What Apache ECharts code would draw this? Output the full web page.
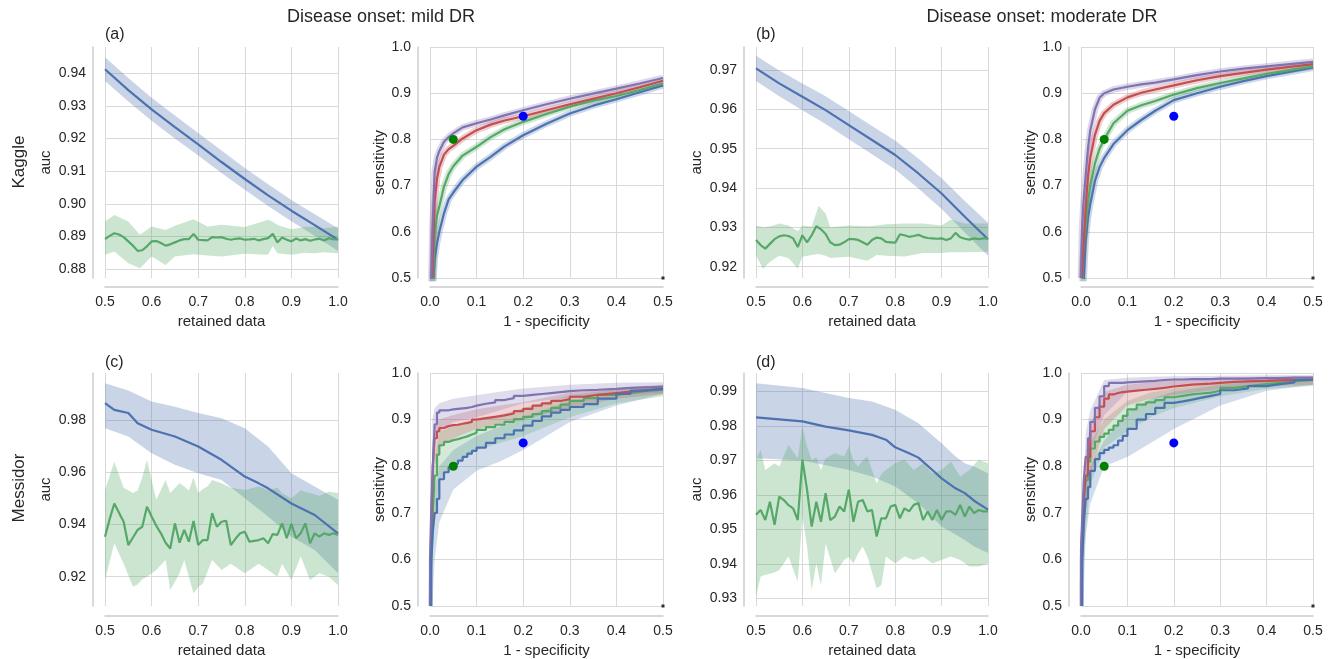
<!DOCTYPE html>
<html>
<head>
<meta charset="utf-8">
<script src="https://cdn.jsdelivr.net/npm/echarts/dist/echarts.min.js"></script>
<style>html,body{margin:0;padding:0;background:#fff}#c{width:1333px;height:659px}</style>
</head>
<body>
<div id="c"></div>
<script>
// ---------- DATA ----------
const auxX = [0.50,0.51,0.52,0.53,0.54,0.55,0.56,0.57,0.58,0.59,0.60,0.61,0.62,0.63,0.64,0.65,0.66,0.67,0.68,0.69,0.70,0.71,0.72,0.73,0.74,0.75,0.76,0.77,0.78,0.79,0.80,0.81,0.82,0.83,0.84,0.85,0.86,0.87,0.88,0.89,0.90,0.91,0.92,0.93,0.94,0.95,0.96,0.97,0.98,0.99,1.00];

// (a) Kaggle, mild DR
const aBlueX = [0.5,0.55,0.6,0.65,0.7,0.75,0.8,0.85,0.9,0.95,1.0];
const aBlue   = [0.9412,0.9348,0.9289,0.9235,0.9182,0.9128,0.9076,0.9026,0.8979,0.8935,0.8890];
const aBlueLo = [0.9376,0.9313,0.9254,0.9200,0.9148,0.9094,0.9043,0.8993,0.8947,0.8902,0.8856];
const aBlueHi = [0.9449,0.9385,0.9325,0.9270,0.9217,0.9163,0.9110,0.9060,0.9012,0.8968,0.8925];
const aGreen = [0.8892,0.8902,0.8910,0.8906,0.8898,0.8885,0.8872,0.8856,0.8858,0.8870,0.8885,0.8886,0.8880,0.8872,0.8876,0.8882,0.8888,0.8892,0.8892,0.8908,0.8890,0.8889,0.8888,0.8898,0.8897,0.8898,0.8893,0.8890,0.8893,0.8894,0.8890,0.8891,0.8893,0.8888,0.8892,0.8895,0.8908,0.8882,0.8897,0.8890,0.8885,0.8894,0.8888,0.8892,0.8887,0.8891,0.8893,0.8888,0.8895,0.8891,0.8892];
const aGreenBandX = [0.5,0.52,0.55,0.575,0.6,0.63,0.65,0.69,0.72,0.75,0.8,0.85,0.86,0.87,0.9,0.93,0.95,0.97,1.0];
const aGreenHi = [0.8946,0.8966,0.8946,0.8905,0.8931,0.8920,0.8933,0.8953,0.8931,0.8936,0.8929,0.8951,0.8945,0.8935,0.8922,0.8930,0.8929,0.8925,0.8931];
const aGreenLo = [0.8844,0.8854,0.8818,0.8803,0.8839,0.8813,0.8839,0.8846,0.8842,0.8839,0.8847,0.8844,0.8871,0.8849,0.8844,0.8850,0.8849,0.8852,0.8849];

// (b) Kaggle, moderate DR
const bBlueX = [0.5,0.55,0.6,0.65,0.7,0.75,0.8,0.85,0.9,0.95,1.0];
const bBlue   = [0.9704,0.9666,0.9632,0.9598,0.9560,0.9522,0.9484,0.9437,0.9386,0.9327,0.9270];
const bBlueLo = [0.9672,0.9633,0.9598,0.9563,0.9524,0.9486,0.9447,0.9399,0.9347,0.9287,0.9228];
const bBlueHi = [0.9736,0.9699,0.9666,0.9633,0.9596,0.9558,0.9521,0.9475,0.9425,0.9367,0.9312];
const bGreen = [0.9268,0.9255,0.9246,0.9258,0.9270,0.9277,0.9280,0.9278,0.9272,0.9250,0.9280,0.9262,0.9280,0.9303,0.9295,0.9283,0.9262,0.9255,0.9256,0.9262,0.9270,0.9270,0.9268,0.9262,0.9256,0.9268,0.9274,0.9272,0.9263,0.9262,0.9261,0.9282,0.9280,0.9276,0.9278,0.9281,0.9276,0.9273,0.9272,0.9271,0.9272,0.9268,0.9272,0.9286,0.9275,0.9271,0.9269,0.9272,0.9270,0.9272,0.9272];
const bGreenBandX = [0.5,0.515,0.53,0.55,0.57,0.59,0.6,0.62,0.635,0.65,0.66,0.7,0.74,0.76,0.78,0.82,0.86,0.9,0.92,0.95,1.0];
const bGreenHi = [0.9305,0.9300,0.9302,0.9310,0.9305,0.9290,0.9305,0.9302,0.9355,0.9335,0.9300,0.9305,0.9303,0.9305,0.9308,0.9310,0.9310,0.9305,0.9320,0.9310,0.9310];
const bGreenLo = [0.9230,0.9195,0.9212,0.9228,0.9222,0.9195,0.9225,0.9230,0.9232,0.9228,0.9222,0.9225,0.9215,0.9230,0.9228,0.9226,0.9235,0.9235,0.9237,0.9237,0.9238];

// (c) Messidor, mild DR
const cBlueX = [0.5,0.52,0.55,0.57,0.6,0.65,0.7,0.75,0.8,0.83,0.85,0.9,0.95,1.0];
const cBlue  = [0.9864,0.9838,0.9826,0.9787,0.9762,0.9736,0.9698,0.9647,0.9583,0.9557,0.9538,0.9480,0.9436,0.9366];
const cBlueBandX = [0.5,0.55,0.6,0.65,0.7,0.75,0.8,0.85,0.9,0.95,1.0];
const cBlueHi = [0.9940,0.9912,0.9870,0.9850,0.9826,0.9806,0.9768,0.9698,0.9596,0.9545,0.9494];
const cBlueLo = [0.9768,0.9736,0.9672,0.9628,0.9596,0.9570,0.9500,0.9430,0.9353,0.9302,0.9213];
const cGreen = [0.9353,0.9420,0.9480,0.9445,0.9410,0.9321,0.9350,0.9379,0.9391,0.9468,0.9430,0.9395,0.9366,0.9330,0.9308,0.9404,0.9330,0.9379,0.9334,0.9413,0.9321,0.9340,0.9340,0.9443,0.9391,0.9410,0.9414,0.9321,0.9345,0.9366,0.9372,0.9334,0.9337,0.9340,0.9347,0.9328,0.9363,0.9360,0.9404,0.9347,0.9402,0.9347,0.9366,0.9404,0.9328,0.9366,0.9353,0.9366,0.9360,0.9366,0.9360];
const cGreenBandX = [0.5,0.52,0.54,0.56,0.57,0.58,0.59,0.61,0.63,0.64,0.66,0.67,0.68,0.69,0.7,0.71,0.72,0.73,0.75,0.77,0.8,0.83,0.85,0.87,0.88,0.9,0.92,0.94,0.96,0.98,1.0];
const cGreenHi = [0.9532,0.9640,0.9540,0.9520,0.9530,0.9580,0.9647,0.9494,0.9570,0.9520,0.9557,0.9545,0.9530,0.9580,0.9520,0.9535,0.9545,0.9570,0.9557,0.9540,0.9532,0.9545,0.9532,0.9540,0.9520,0.9500,0.9530,0.9520,0.9510,0.9525,0.9520];
const cGreenLo = [0.9187,0.9328,0.9250,0.9162,0.9170,0.9190,0.9200,0.9226,0.9264,0.9149,0.9213,0.9264,0.9200,0.9136,0.9160,0.9174,0.9220,0.9264,0.9226,0.9250,0.9213,0.9250,0.9226,0.9200,0.9250,0.9187,0.9277,0.9187,0.9213,0.9200,0.9168];

// (d) Messidor, moderate DR
const dBlueX = [0.5,0.55,0.6,0.65,0.7,0.75,0.78,0.8,0.83,0.85,0.88,0.9,0.93,0.95,0.97,1.0];
const dBlue  = [0.9825,0.9819,0.9813,0.9798,0.9787,0.9774,0.9760,0.9738,0.9721,0.9708,0.9672,0.9648,0.9619,0.9605,0.9583,0.9557];
const dBlueBandX = [0.5,0.6,0.7,0.75,0.8,0.85,0.9,0.93,0.95,0.97,1.0];
const dBlueHi = [0.9924,0.9910,0.9881,0.9871,0.9847,0.9808,0.9750,0.9711,0.9692,0.9682,0.9663];
const dBlueLo = [0.9706,0.9700,0.9672,0.9653,0.9624,0.9576,0.9508,0.9485,0.9469,0.9450,0.9431];
const dGreen = [0.9542,0.9556,0.9527,0.9580,0.9513,0.9595,0.9585,0.9570,0.9561,0.9527,0.9702,0.9615,0.9508,0.9580,0.9522,0.9605,0.9527,0.9537,0.9566,0.9552,0.9615,0.9522,0.9580,0.9585,0.9552,0.9556,0.9479,0.9532,0.9532,0.9566,0.9571,0.9532,0.9561,0.9552,0.9571,0.9576,0.9527,0.9552,0.9527,0.9556,0.9527,0.9552,0.9552,0.9542,0.9571,0.9537,0.9566,0.9547,0.9556,0.9552,0.9552];
const dGreenBandX = [0.5,0.51,0.52,0.54,0.55,0.57,0.59,0.6,0.61,0.62,0.63,0.64,0.65,0.67,0.69,0.7,0.71,0.72,0.73,0.74,0.76,0.77,0.78,0.8,0.82,0.84,0.86,0.88,0.9,0.92,0.94,0.96,0.98,1.0];
const dGreenHi = [0.9702,0.9731,0.9672,0.9692,0.9682,0.9745,0.9706,0.9798,0.9740,0.9700,0.9710,0.9672,0.9706,0.9721,0.9711,0.9740,0.9700,0.9682,0.9700,0.9711,0.9634,0.9660,0.9672,0.9692,0.9702,0.9672,0.9692,0.9663,0.9672,0.9697,0.9653,0.9672,0.9702,0.9692];
const dGreenLo = [0.9305,0.9363,0.9368,0.9375,0.9382,0.9421,0.9348,0.9537,0.9450,0.9324,0.9401,0.9338,0.9459,0.9372,0.9411,0.9420,0.9401,0.9430,0.9450,0.9421,0.9329,0.9338,0.9421,0.9401,0.9421,0.9411,0.9421,0.9401,0.9411,0.9421,0.9411,0.9392,0.9392,0.9401];

// ROC curves, Kaggle
const rocKX = [0,0.002,0.005,0.01,0.015,0.02,0.03,0.04,0.05,0.07,0.1,0.13,0.16,0.2,0.25,0.3,0.35,0.4,0.45,0.5];
const kMildPurple = [null,0.45,0.60,0.73,0.76,0.775,0.795,0.805,0.813,0.826,0.835,0.843,0.852,0.863,0.876,0.888,0.899,0.91,0.921,0.933];
const kMildRed    = [null,null,0.50,0.665,0.715,0.74,0.767,0.779,0.786,0.802,0.82,0.832,0.841,0.85,0.863,0.876,0.888,0.90,0.913,0.927];
const kMildGreen  = [null,null,0.47,0.59,0.635,0.655,0.698,0.725,0.742,0.765,0.784,0.805,0.822,0.838,0.855,0.871,0.884,0.894,0.907,0.921];
const kMildBlue   = [null,null,0.46,0.54,0.575,0.60,0.64,0.67,0.685,0.712,0.741,0.762,0.785,0.809,0.834,0.856,0.873,0.887,0.902,0.917];
const kModPurple = [0.50,0.60,0.66,0.72,0.78,0.82,0.865,0.89,0.90,0.908,0.914,0.919,0.923,0.93,0.939,0.947,0.953,0.958,0.963,0.968];
const kModRed    = [null,0.50,0.56,0.65,0.72,0.76,0.81,0.84,0.857,0.875,0.891,0.901,0.908,0.917,0.928,0.937,0.944,0.951,0.957,0.963];
const kModGreen  = [null,0.46,0.56,0.61,0.665,0.70,0.748,0.78,0.80,0.835,0.862,0.874,0.883,0.897,0.911,0.922,0.932,0.942,0.95,0.958];
const kModBlue   = [null,null,0.48,0.58,0.63,0.66,0.71,0.74,0.76,0.79,0.82,0.842,0.862,0.885,0.90,0.914,0.926,0.937,0.946,0.955];

// ROC curves, Messidor
const rocMX = [0,0.003,0.006,0.01,0.015,0.02,0.03,0.04,0.05,0.06,0.07,0.08,0.09,0.1,0.12,0.14,0.16,0.18,0.2,0.22,0.24,0.26,0.28,0.3,0.33,0.36,0.4,0.43,0.46,0.5];
const mMildPurple = [0.50,0.60,0.72,0.80,0.89,0.915,0.92,0.92,0.922,0.923,0.924,0.925,0.927,0.93,0.934,0.937,0.942,0.946,0.951,0.953,0.955,0.957,0.959,0.961,0.963,0.964,0.966,0.968,0.969,0.97];
const mMildRed    = [0.50,0.55,0.68,0.80,0.86,0.875,0.882,0.886,0.888,0.889,0.891,0.893,0.895,0.90,0.903,0.906,0.909,0.913,0.918,0.923,0.93,0.935,0.94,0.944,0.949,0.953,0.957,0.96,0.963,0.966];
const mMildGreen  = [0.50,0.52,0.60,0.70,0.78,0.825,0.845,0.852,0.856,0.858,0.861,0.864,0.868,0.872,0.878,0.884,0.889,0.895,0.901,0.906,0.912,0.918,0.925,0.932,0.94,0.946,0.953,0.957,0.961,0.964];
const mMildBlue   = [null,0.50,0.60,0.66,0.70,0.73,0.772,0.787,0.798,0.805,0.812,0.82,0.827,0.833,0.84,0.85,0.86,0.868,0.877,0.887,0.897,0.907,0.915,0.921,0.927,0.933,0.945,0.955,0.962,0.966];
const mModPurple = [0.50,0.62,0.70,0.77,0.82,0.86,0.895,0.925,0.95,0.972,0.979,0.979,0.979,0.98,0.981,0.982,0.983,0.985,0.986,0.986,0.987,0.987,0.987,0.988,0.988,0.988,0.989,0.989,0.99,0.99];
const mModRed    = [0.50,0.60,0.68,0.73,0.78,0.82,0.875,0.905,0.928,0.945,0.954,0.957,0.959,0.96,0.962,0.964,0.966,0.968,0.971,0.973,0.975,0.976,0.977,0.979,0.981,0.982,0.983,0.984,0.985,0.986];
const mModGreen  = [0.50,0.55,0.65,0.72,0.77,0.81,0.838,0.853,0.863,0.87,0.878,0.887,0.897,0.908,0.922,0.932,0.937,0.942,0.948,0.951,0.954,0.956,0.958,0.962,0.968,0.972,0.976,0.979,0.982,0.985];
const mModBlue   = [null,0.50,0.60,0.68,0.73,0.755,0.79,0.815,0.828,0.835,0.84,0.845,0.855,0.865,0.88,0.90,0.912,0.925,0.936,0.939,0.943,0.947,0.951,0.955,0.963,0.967,0.972,0.976,0.98,0.985];

// ROC confidence bands, Messidor
const rocMBandX = [0.005,0.01,0.02,0.05,0.1,0.15,0.2,0.3,0.4,0.5];
const mMildPurpleLo = [0.75,0.86,0.875,0.895,0.905,0.92,0.935,0.948,0.953,0.958];
const mMildPurpleHi = [0.90,0.925,0.935,0.945,0.952,0.96,0.967,0.975,0.979,0.98];
const mMildRedLo = [0.70,0.80,0.84,0.86,0.88,0.89,0.9,0.925,0.945,0.955];
const mMildRedHi = [0.85,0.885,0.90,0.91,0.922,0.93,0.937,0.958,0.968,0.975];
const mMildGreenLo = [0.60,0.68,0.77,0.80,0.835,0.85,0.865,0.905,0.935,0.95];
const mMildGreenHi = [0.75,0.82,0.875,0.885,0.897,0.91,0.925,0.952,0.965,0.975];
const mMildBlueLo = [0.50,0.60,0.68,0.75,0.79,0.81,0.835,0.895,0.93,0.955];
const mMildBlueHi = [0.72,0.75,0.80,0.835,0.865,0.885,0.905,0.94,0.955,0.975];
const mModPurpleLo = [0.60,0.72,0.83,0.91,0.96,0.967,0.972,0.978,0.982,0.985];
const mModPurpleHi = [0.72,0.87,0.92,0.985,0.99,0.992,0.993,0.994,0.995,0.995];
const mModRedLo = [0.60,0.70,0.78,0.88,0.93,0.945,0.953,0.965,0.972,0.975];
const mModRedHi = [0.75,0.83,0.89,0.96,0.975,0.98,0.985,0.99,0.992,0.993];
const mModGreenLo = [0.55,0.66,0.76,0.84,0.875,0.905,0.925,0.95,0.966,0.972];
const mModGreenHi = [0.68,0.78,0.85,0.90,0.94,0.958,0.967,0.978,0.987,0.99];
const mModBlueLo = [0.50,0.65,0.72,0.80,0.82,0.85,0.88,0.93,0.962,0.975];
const mModBlueHi = [0.66,0.74,0.80,0.855,0.915,0.945,0.96,0.975,0.985,0.99];

// operating points
const greenPoint = [[0.05, 0.80]];
const bluePoint = [[0.2, 0.85]];
const cornerMark = [[0.5, 0.5]];

// ---------- STYLE ----------
const FONT = '"Liberation Sans", Arial, sans-serif';
const TXT = '#262626';
const BLUE = '#4C72B0', GREEN = '#55A868', RED = '#C44E52', PURPLE = '#8172B2';
const SPINE = '#cccccc', GRIDC = '#d9d9d9';

function rgba(hex, a) {
  const n = parseInt(hex.slice(1), 16);
  return 'rgba(' + (n >> 16) + ',' + ((n >> 8) & 255) + ',' + (n & 255) + ',' + a + ')';
}

const grids = [
  {left:105, top:47, width:233, height:231},
  {left:430, top:47, width:233, height:231},
  {left:756, top:47, width:232, height:231},
  {left:1081, top:47, width:232, height:231},
  {left:105, top:373, width:233, height:233},
  {left:430, top:373, width:233, height:233},
  {left:756, top:373, width:232, height:233},
  {left:1081, top:373, width:232, height:233}
];

function xAxis(gi, roc, off) {
  return {
    type:'value', gridIndex:gi, min: roc ? 0 : 0.5, max: roc ? 0.5 : 1.0, interval:0.1,
    offset: off,
    axisLine:{show:true, onZero:false, lineStyle:{color:SPINE, width:1.5}},
    axisTick:{show:false},
    axisLabel:{color:TXT, fontSize:14, fontFamily:FONT, margin:8, formatter: v => v.toFixed(1)},
    splitLine:{show:true, lineStyle:{color:GRIDC, width:1}},
    name: roc ? '1 - specificity' : 'retained data', nameLocation:'middle', nameGap:27,
    nameTextStyle:{color:TXT, fontSize:15, fontFamily:FONT}
  };
}
function yAxisAuc(gi, min, max, step) {
  return {
    type:'value', gridIndex:gi, min:min, max:max, minInterval:step, maxInterval:step,
    offset:12,
    axisLine:{show:true, onZero:false, lineStyle:{color:SPINE, width:1.5}},
    axisTick:{show:false},
    axisLabel:{color:TXT, fontSize:14, fontFamily:FONT, margin:7, showMinLabel:false, showMaxLabel:false, formatter: v => v.toFixed(2)},
    splitLine:{show:true, showMinLine:false, showMaxLine:false, lineStyle:{color:GRIDC, width:1}},
    name:'auc', nameLocation:'middle', nameGap:40,
    nameTextStyle:{color:TXT, fontSize:15, fontFamily:FONT}
  };
}
function yAxisRoc(gi) {
  return {
    type:'value', gridIndex:gi, min:0.5, max:1.0, interval:0.1,
    offset:12,
    axisLine:{show:true, onZero:false, lineStyle:{color:SPINE, width:1.5}},
    axisTick:{show:false},
    axisLabel:{color:TXT, fontSize:14, fontFamily:FONT, margin:7, formatter: v => v.toFixed(1)},
    splitLine:{show:true, lineStyle:{color:GRIDC, width:1}},
    name:'sensitivity', nameLocation:'middle', nameGap:31,
    nameTextStyle:{color:TXT, fontSize:15, fontFamily:FONT}
  };
}

function band(gi, xs, lo, hi, color, a) {
  const data = xs.map((x, i) => [x, lo[i], hi[i]]);
  return {
    type:'custom', xAxisIndex:gi, yAxisIndex:gi, data:data, silent:true, animation:false,
    encode:{x:0, y:[1,2]}, clip:true,
    renderItem: function (params, api) {
      if (params.dataIndex !== 0) return null;
      const top = data.map(d => api.coord([d[0], d[2]]));
      const bot = data.map(d => api.coord([d[0], d[1]])).reverse();
      return {type:'polygon', shape:{points: top.concat(bot)}, style:{fill: rgba(color, a)}};
    }
  };
}
function line(gi, xs, ys, color, extra) {
  const data = [];
  xs.forEach((x, i) => { if (ys[i] !== null) data.push([x, ys[i]]); });
  return Object.assign({
    type:'line', xAxisIndex:gi, yAxisIndex:gi, data:data, showSymbol:false, symbol:'none',
    silent:true, animation:false, clip:true,
    lineStyle:{color:color, width:2.2}, itemStyle:{color:color}, z:3
  }, extra || {});
}
function halo(gi, xs, ys, color) {
  return line(gi, xs, ys, color, {lineStyle:{color:color, width:6.5, opacity:0.28}, z:2});
}
function points(gi) {
  return [
    {type:'scatter', xAxisIndex:gi, yAxisIndex:gi, data:greenPoint, symbolSize:9, itemStyle:{color:'#008000', opacity:1}, z:5, silent:true, animation:false},
    {type:'scatter', xAxisIndex:gi, yAxisIndex:gi, data:bluePoint, symbolSize:9, itemStyle:{color:'#0000ff', opacity:1}, z:5, silent:true, animation:false},
    {type:'scatter', xAxisIndex:gi, yAxisIndex:gi, data:cornerMark, symbol:'rect', symbolSize:3, itemStyle:{color:'#000'}, z:5, silent:true, animation:false, clip:false}
  ];
}

const A = 0.3;
const ST = {step:'start'};
const series = [
  // (a)
  band(0, aBlueX, aBlueLo, aBlueHi, BLUE, A), line(0, aBlueX, aBlue, BLUE),
  band(0, aGreenBandX, aGreenLo, aGreenHi, GREEN, A), line(0, auxX, aGreen, GREEN),
  // ROC Kaggle mild
  halo(1, rocKX, kMildBlue, BLUE), halo(1, rocKX, kMildGreen, GREEN), halo(1, rocKX, kMildRed, RED), halo(1, rocKX, kMildPurple, PURPLE),
  line(1, rocKX, kMildBlue, BLUE), line(1, rocKX, kMildGreen, GREEN), line(1, rocKX, kMildRed, RED), line(1, rocKX, kMildPurple, PURPLE),
  ...points(1),
  // (b)
  band(2, bBlueX, bBlueLo, bBlueHi, BLUE, A), line(2, bBlueX, bBlue, BLUE),
  band(2, bGreenBandX, bGreenLo, bGreenHi, GREEN, A), line(2, auxX, bGreen, GREEN),
  // ROC Kaggle moderate
  halo(3, rocKX, kModBlue, BLUE), halo(3, rocKX, kModGreen, GREEN), halo(3, rocKX, kModRed, RED), halo(3, rocKX, kModPurple, PURPLE),
  line(3, rocKX, kModBlue, BLUE), line(3, rocKX, kModGreen, GREEN), line(3, rocKX, kModRed, RED), line(3, rocKX, kModPurple, PURPLE),
  ...points(3),
  // (c)
  band(4, cBlueBandX, cBlueLo, cBlueHi, BLUE, A), line(4, cBlueX, cBlue, BLUE),
  band(4, cGreenBandX, cGreenLo, cGreenHi, GREEN, A), line(4, auxX, cGreen, GREEN),
  // ROC Messidor mild
  band(5, rocMBandX, mMildBlueLo, mMildBlueHi, BLUE, 0.25), band(5, rocMBandX, mMildGreenLo, mMildGreenHi, GREEN, 0.25),
  band(5, rocMBandX, mMildRedLo, mMildRedHi, RED, 0.25), band(5, rocMBandX, mMildPurpleLo, mMildPurpleHi, PURPLE, 0.25),
  line(5, rocMX, mMildGreen, GREEN, ST), line(5, rocMX, mMildRed, RED, ST),
  line(5, rocMX, mMildPurple, PURPLE, ST), line(5, rocMX, mMildBlue, BLUE, ST),
  ...points(5),
  // (d)
  band(6, dBlueBandX, dBlueLo, dBlueHi, BLUE, A), line(6, dBlueX, dBlue, BLUE),
  band(6, dGreenBandX, dGreenLo, dGreenHi, GREEN, A), line(6, auxX, dGreen, GREEN),
  // ROC Messidor moderate
  band(7, rocMBandX, mModBlueLo, mModBlueHi, BLUE, 0.25), band(7, rocMBandX, mModGreenLo, mModGreenHi, GREEN, 0.25),
  band(7, rocMBandX, mModRedLo, mModRedHi, RED, 0.25), band(7, rocMBandX, mModPurpleLo, mModPurpleHi, PURPLE, 0.25),
  line(7, rocMX, mModGreen, GREEN, ST), line(7, rocMX, mModRed, RED, ST),
  line(7, rocMX, mModPurple, PURPLE, ST), line(7, rocMX, mModBlue, BLUE, ST),
  ...points(7)
];

function txt(x, y, s, size, opts) {
  return Object.assign({type:'text', x:x, y:y, silent:true,
    style:Object.assign({text:s, font: size + 'px ' + FONT, fill:TXT, align:'center', verticalAlign:'middle'}, (opts && opts.style) || {})},
    (opts && opts.el) || {});
}

const option = {
  animation:false,
  backgroundColor:'#ffffff',
  grid: grids,
  xAxis: [xAxis(0,false,9), xAxis(1,true,9), xAxis(2,false,9), xAxis(3,true,9),
          xAxis(4,false,10), xAxis(5,true,10), xAxis(6,false,10), xAxis(7,true,10)],
  yAxis: [yAxisAuc(0, 0.8773, 0.948, 0.01), yAxisRoc(1), yAxisAuc(2, 0.91713, 0.97585, 0.01), yAxisRoc(3),
          yAxisAuc(4, 0.9088, 0.9979, 0.02), yAxisRoc(5), yAxisAuc(6, 0.92776, 0.99535, 0.01), yAxisRoc(7)],
  series: series,
  graphic: [
    txt(381, 17, 'Disease onset: mild DR', 18),
    txt(1042, 17, 'Disease onset: moderate DR', 18),
    txt(105, 35, '(a)', 16, {style:{align:'left'}}),
    txt(756, 35, '(b)', 16, {style:{align:'left'}}),
    txt(105, 363, '(c)', 16, {style:{align:'left'}}),
    txt(756, 363, '(d)', 16, {style:{align:'left'}}),
    txt(19.5, 162, 'Kaggle', 17, {el:{rotation:Math.PI/2}}),
    txt(19.5, 488, 'Messidor', 17, {el:{rotation:Math.PI/2}})
  ]
};

const chart = echarts.init(document.getElementById('c'), null, {renderer:'canvas'});
chart.setOption(option);
</script>
</body>
</html>
